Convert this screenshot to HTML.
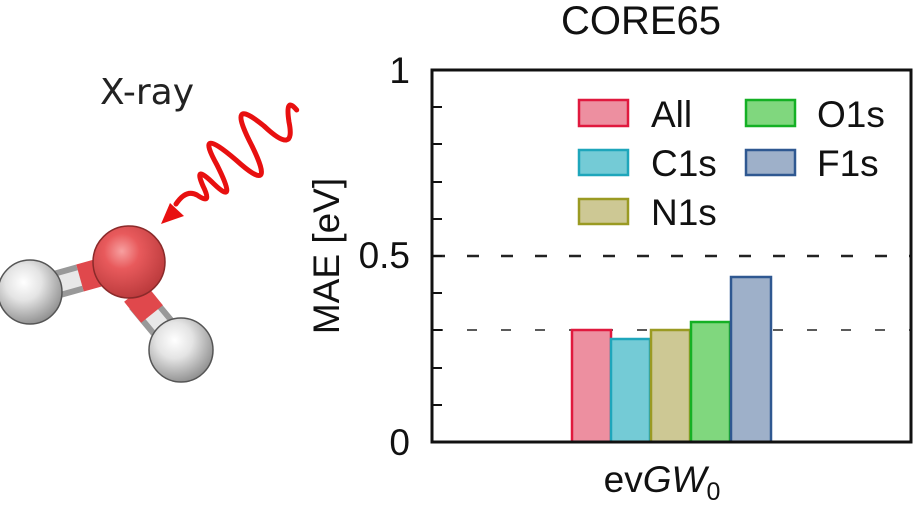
<!DOCTYPE html>
<html><head><meta charset="utf-8"><style>
html,body{margin:0;padding:0;background:#fff;}
svg{display:block;font-family:"Liberation Sans",sans-serif;}
</style></head><body>
<svg width="914" height="506" viewBox="0 0 914 506" xmlns="http://www.w3.org/2000/svg">
<defs>
<radialGradient id="ro" cx="0.4" cy="0.35" r="0.7"><stop offset="0" stop-color="#f7a0a0"/><stop offset="0.35" stop-color="#e85a5c"/><stop offset="1" stop-color="#b8383a"/></radialGradient>
<radialGradient id="hw" cx="0.4" cy="0.35" r="0.7"><stop offset="0" stop-color="#ffffff"/><stop offset="0.4" stop-color="#e4e4e4"/><stop offset="1" stop-color="#8a8a8a"/></radialGradient>
</defs>
<!-- molecule -->
<g>
<line x1="30" y1="292" x2="80" y2="278" stroke="#999" stroke-width="28"/>
<line x1="30" y1="292" x2="80" y2="278" stroke="#e8e8e8" stroke-width="16"/>
<line x1="80" y1="278" x2="105" y2="271" stroke="#e0484c" stroke-width="28"/>
<line x1="140" y1="300" x2="180" y2="348" stroke="#999" stroke-width="28"/>
<line x1="140" y1="300" x2="180" y2="348" stroke="#e8e8e8" stroke-width="16"/>
<line x1="135" y1="293" x2="152" y2="314" stroke="#e0484c" stroke-width="28"/>
<circle cx="30" cy="292" r="32" fill="url(#hw)" stroke="#555" stroke-width="1.5"/>
<circle cx="181" cy="350" r="32" fill="url(#hw)" stroke="#555" stroke-width="1.5"/>
<circle cx="129" cy="262" r="36" fill="url(#ro)" stroke="#8a2a2a" stroke-width="1.5"/>
</g>
<text x="100" y="104" font-size="36" font-family="DejaVu Sans, sans-serif" fill="#222">X-ray</text>
<!-- wave -->
<path d="M296.7,110 Q285,96 289,122 Q296,156 264,126 Q225,94 252,146 Q277,197 236,160 Q194,124 217,165 Q238,207 214,184 Q193,163 203,186 Q213,206 197,195 Q186,189 176,204" fill="none" stroke="#e81010" stroke-width="5" stroke-linejoin="round" stroke-linecap="round"/>
<path d="M161,224 L170,203 L184,216 Z" fill="#e81010"/>
<!-- title -->
<text x="641" y="34" font-size="40" text-anchor="middle" fill="#111">CORE65</text>
<!-- dashed lines -->
<line x1="433" y1="256" x2="911" y2="256" stroke="#222" stroke-width="2.5" stroke-dasharray="12,22"/>
<line x1="433" y1="330" x2="911" y2="330" stroke="#444" stroke-width="1.8" stroke-dasharray="10,24"/>
<!-- bars -->
<rect x="572" y="330" width="39" height="112" fill="#ed8fa0" stroke="#e0193e" stroke-width="2.5"/>
<rect x="611" y="339" width="39" height="103" fill="#74cbd6" stroke="#1ea6bb" stroke-width="2.5"/>
<rect x="651" y="330" width="39" height="112" fill="#cdc894" stroke="#9a9a22" stroke-width="2.5"/>
<rect x="691" y="322" width="39" height="120" fill="#80d77e" stroke="#14b024" stroke-width="2.5"/>
<rect x="731" y="277" width="40" height="165" fill="#9eb0c9" stroke="#2f5891" stroke-width="2.5"/>
<!-- frame -->
<rect x="432" y="70" width="479" height="372" fill="none" stroke="#111" stroke-width="3"/>
<g stroke="#111" stroke-width="2">
<line x1="432" y1="107" x2="442" y2="107"/><line x1="432" y1="144" x2="442" y2="144"/><line x1="432" y1="182" x2="442" y2="182"/><line x1="432" y1="219" x2="442" y2="219"/><line x1="432" y1="256" x2="442" y2="256"/><line x1="432" y1="293" x2="442" y2="293"/><line x1="432" y1="330" x2="442" y2="330"/><line x1="432" y1="368" x2="442" y2="368"/><line x1="432" y1="405" x2="442" y2="405"/>
</g>
<!-- y ticks labels -->
<text x="410" y="83" font-size="37" text-anchor="end" fill="#111">1</text>
<text x="410" y="268" font-size="37" text-anchor="end" fill="#111">0.5</text>
<text x="410" y="455" font-size="37" text-anchor="end" fill="#111">0</text>
<text transform="translate(339,256) rotate(-90)" font-size="37" text-anchor="middle" fill="#111">MAE [eV]</text>
<text x="662" y="492" font-size="37" text-anchor="middle" fill="#111">ev<tspan font-style="italic">GW</tspan><tspan font-size="25" dy="8">0</tspan></text>
<!-- legend -->
<rect x="579" y="100" width="49" height="26" fill="#ed8fa0" stroke="#e0193e" stroke-width="2.5"/>
<rect x="579" y="150" width="49" height="25" fill="#74cbd6" stroke="#1ea6bb" stroke-width="2.5"/>
<rect x="579" y="199" width="49" height="25" fill="#cdc894" stroke="#9a9a22" stroke-width="2.5"/>
<rect x="746" y="100" width="49" height="26" fill="#80d77e" stroke="#14b024" stroke-width="2.5"/>
<rect x="746" y="150" width="49" height="25" fill="#9eb0c9" stroke="#2f5891" stroke-width="2.5"/>
<g font-size="37" fill="#111">
<text x="651" y="127">All</text>
<text x="651" y="176">C1s</text>
<text x="651" y="225">N1s</text>
<text x="817" y="127">O1s</text>
<text x="817" y="176">F1s</text>
</g>
</svg>
</body></html>
